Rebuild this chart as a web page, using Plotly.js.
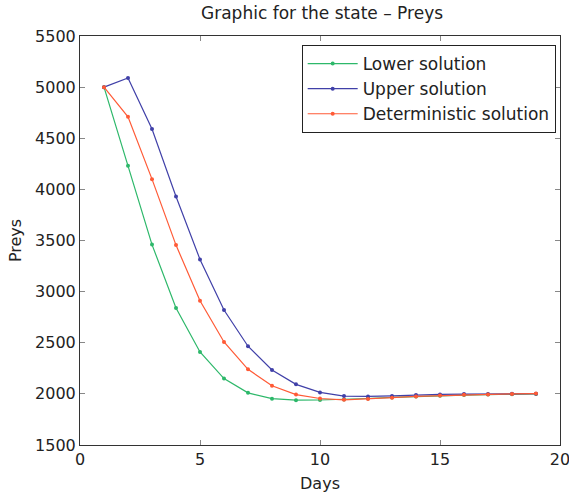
<!DOCTYPE html>
<html>
<head>
<meta charset="utf-8">
<script src="https://cdn.plot.ly/plotly-3.0.1.min.js"></script>
<style>
  html, body { margin: 0; padding: 0; background: #fff; }
  #chart { width: 569px; height: 498px; }
</style>
</head>
<body>
<div id="chart"></div>
<script>
// Days simulated
const days = [1, 2, 3, 4, 5, 6, 7, 8, 9, 10, 11, 12, 13, 14, 15, 16, 17, 18, 19];

// Prey population for each solution
const lowerSolution = [5000, 4230, 3460, 2840, 2410, 2150, 2010, 1953, 1938, 1940, 1945, 1955, 1965, 1975, 1982, 1988, 1993, 1997, 2000];
const upperSolution = [5000, 5090, 4590, 3930, 3315, 2820, 2466, 2233, 2093, 2014, 1978, 1975, 1980, 1990, 1995, 1998, 2000, 2001, 2002];
const deterministicSolution = [5000, 4710, 4100, 3455, 2910, 2508, 2240, 2080, 1993, 1955, 1942, 1950, 1963, 1975, 1983, 1991, 1995, 2000, 2003];

const seriesNames = ['Lower solution', 'Upper solution', 'Deterministic solution'];
const seriesColors = ['#2db86a', '#4040a8', '#ff5a36'];
const seriesValues = [lowerSolution, upperSolution, deterministicSolution];

const xTicks = [0, 5, 10, 15, 20];
const yTicks = [1500, 2000, 2500, 3000, 3500, 4000, 4500, 5000, 5500];

const traces = seriesValues.map((vals, i) => ({
  x: days,
  y: vals,
  name: seriesNames[i],
  type: 'scatter',
  mode: 'lines+markers',
  line: { color: seriesColors[i], width: 1.2 },
  marker: { color: seriesColors[i], size: 4 }
}));

const fontFamily = '"DejaVu Sans", Verdana, sans-serif';
const textColor = '#222';

const axisBase = {
  showgrid: false,
  zeroline: false,
  showline: true,
  linecolor: '#333',
  linewidth: 1,
  mirror: 'ticks',
  ticks: 'inside',
  ticklen: 5,
  tickcolor: '#888',
  ticklabeloverflow: 'allow',
  tickfont: { family: fontFamily, size: 16, color: textColor }
};

const layout = {
  width: 569,
  height: 498,
  margin: { l: 80, r: 9, t: 36, b: 53 },
  paper_bgcolor: '#fff',
  plot_bgcolor: '#fff',
  font: { family: fontFamily, color: textColor },
  title: {
    text: 'Graphic for the state \u2013 Preys',
    font: { family: fontFamily, size: 17, color: textColor },
    x: 0.566, xanchor: 'center',
    y: 0.974, yanchor: 'middle'
  },
  xaxis: Object.assign({}, axisBase, {
    range: [0, 20],
    tickvals: xTicks,
    ticktext: xTicks.map(String),
    title: { text: 'Days', font: { family: fontFamily, size: 16, color: textColor }, standoff: 9 }
  }),
  yaxis: Object.assign({}, axisBase, {
    range: [1500, 5500],
    tickvals: yTicks,
    ticktext: yTicks.map(String),
    title: { text: 'Preys', font: { family: fontFamily, size: 16, color: textColor }, standoff: 9 }
  }),
  showlegend: true,
  legend: {
    x: 0.991, xanchor: 'right',
    y: 0.978, yanchor: 'top',
    bgcolor: '#fff',
    bordercolor: '#222',
    borderwidth: 1,
    font: { family: fontFamily, size: 17, color: textColor },
    tracegroupgap: 0,
    itemwidth: 50
  }
};

Plotly.newPlot('chart', traces, layout, { displayModeBar: false, staticPlot: true });
</script>
</body>
</html>
